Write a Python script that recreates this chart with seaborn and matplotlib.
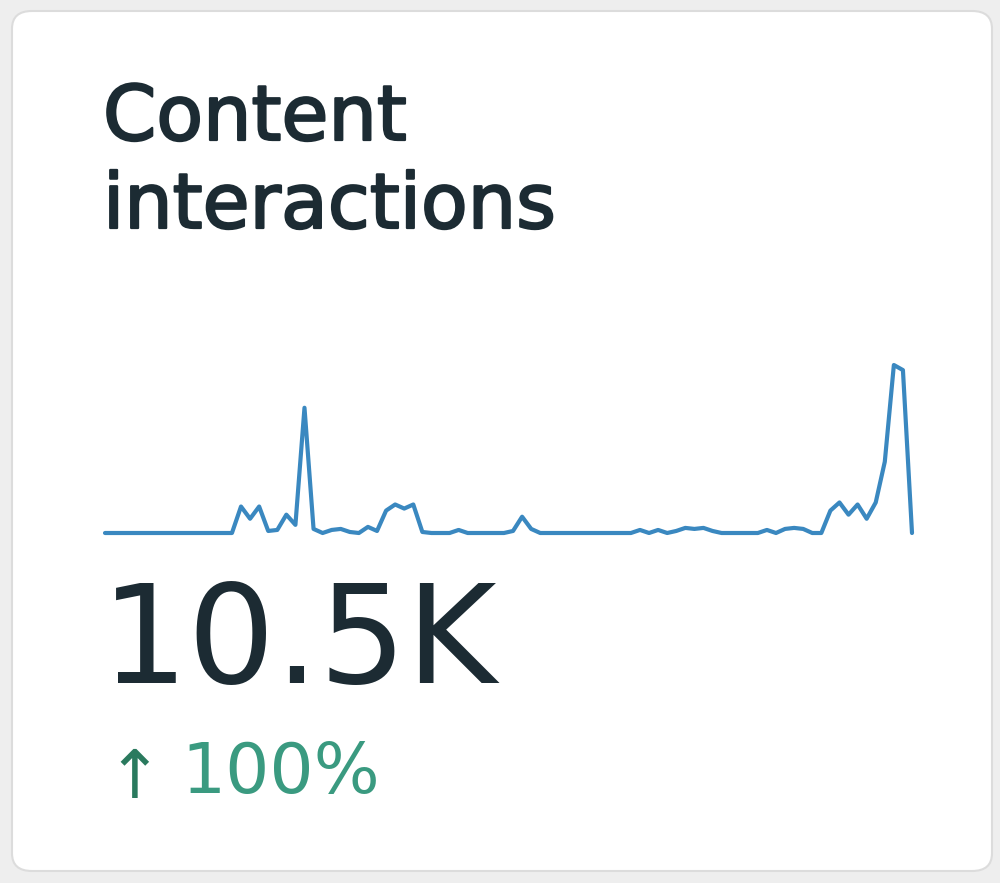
import numpy as np
import pandas as pd
import matplotlib
matplotlib.use("Agg")
import matplotlib.pyplot as plt
import matplotlib.patheffects as pe
from matplotlib.patches import FancyBboxPatch
import seaborn as sns

# ---- data (daily content interactions, read from the sparkline) ----
days = list(range(90))
interactions = [
    0, 0, 0, 0, 0, 0, 0, 0, 0, 0, 0, 0, 0, 0, 0,
    130, 70, 130, 10, 15, 90, 40, 615, 20, 0, 15, 20, 5, 0, 30,
    10, 110, 140, 120, 140, 5, 0, 0, 0, 15, 0, 0, 0, 0, 0,
    10, 80, 20, 0, 0, 0, 0, 0, 0, 0, 0, 0, 0, 0, 15,
    0, 15, 0, 10, 25, 20, 25, 10, 0, 0, 0, 0, 0, 15, 0,
    20, 25, 20, 0, 0, 110, 150, 90, 140, 70, 150, 350, 825, 800, 0,
]
title_lines = ["Content", "interactions"]
total_label = "10.5K"
change_arrow = "↑"
change_label = "100%"

df = pd.DataFrame({"day": days, "interactions": interactions})

sns.set_theme(style="white")
W, H = 1000, 883
fig = plt.figure(figsize=(W / 100, H / 100), dpi=100)
fig.patch.set_facecolor("#eeeeee")

# card
card = FancyBboxPatch((12 / W, 12 / H), (992 - 12) / W, (872 - 12) / H,
                      boxstyle="round,pad=0,rounding_size=0.02",
                      transform=fig.transFigure, facecolor="white",
                      edgecolor="#dcdcdc", linewidth=1.5, zorder=-5)
fig.patches.append(card)

def fy(px):
    return 1 - px / H

# sparkline axes
left, right, base, top = 105, 912, 533, 365
ax = fig.add_axes([left / W, fy(base), (right - left) / W, (base - top) / H])
ax.set_zorder(5)
sns.lineplot(data=df, x="day", y="interactions", ax=ax, color="#3a88c0",
             linewidth=3.0)
ax.set_xlim(0, len(days) - 1)
ax.set_ylim(0, max(interactions))
ax.set_axis_off()
for l in ax.lines:
    l.set_clip_on(False)

font = ["DejaVu Sans"]
dark = "#1c2b33"
medium = [pe.withStroke(linewidth=1.6, foreground=dark)]
fig.text(103 / W, fy(140), title_lines[0], fontsize=55, color=dark,
         family=font, fontweight="normal", ha="left", va="baseline",
         path_effects=medium)
fig.text(103 / W, fy(228), title_lines[1], fontsize=55, color=dark,
         family=font, fontweight="normal", ha="left", va="baseline",
         path_effects=medium)
fig.text(101 / W, fy(683), total_label, fontsize=99, color=dark,
         family=font, ha="left", va="baseline")
fig.text(106 / W, fy(798), change_arrow, fontsize=48, color="#2a7a5e",
         family=font, ha="left", va="baseline")
fig.text(181 / W, fy(793), change_label, fontsize=50, color="#3a9a80",
         family=font, ha="left", va="baseline")

fig.savefig("out.png", dpi=100, facecolor=fig.get_facecolor())
